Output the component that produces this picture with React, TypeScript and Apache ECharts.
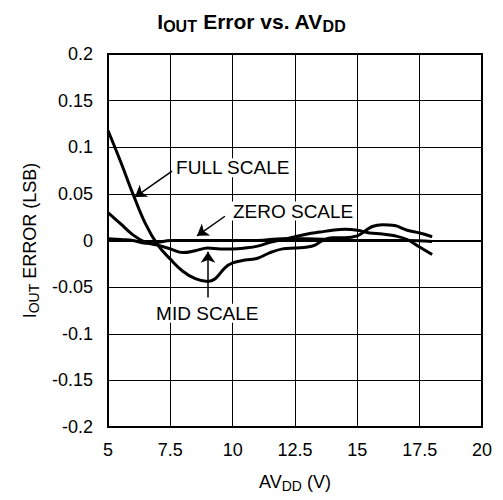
import React, { useEffect, useRef } from "react";
import * as echarts from "echarts";

const xTicks = [5, 7.5, 10, 12.5, 15, 17.5, 20];
const yTicks = [-0.2, -0.15, -0.1, -0.05, 0, 0.05, 0.1, 0.15, 0.2];

const fullScaleX = [5.0, 5.5, 6.0, 6.5, 7.0, 7.5, 8.0, 8.5, 9.0, 9.3, 9.7, 10.0, 10.5, 11.0, 11.5, 12.0, 12.5, 13.0, 13.3, 13.6, 14.0, 14.5, 15.0, 15.3, 15.6, 16.0, 16.5, 17.0, 17.5, 18.0];
const fullScaleY = [0.118, 0.085, 0.05, 0.018, -0.005, -0.02, -0.033, -0.041, -0.044, -0.041, -0.029, -0.024, -0.021, -0.019, -0.013, -0.009, -0.008, -0.007, -0.005, 0.0, 0.003, 0.003, 0.005, 0.01, 0.015, 0.017, 0.016, 0.011, 0.008, 0.004];

const midScaleX = [5.0, 5.5, 6.0, 6.5, 7.0, 7.5, 8.0, 8.5, 9.0, 9.5, 10.0, 10.5, 11.0, 11.5, 12.0, 12.5, 13.0, 13.5, 14.0, 14.5, 15.0, 15.5, 16.0, 16.5, 17.0, 17.5, 18.0];
const midScaleY = [0.03, 0.018, 0.006, -0.002, -0.005, -0.009, -0.013, -0.011, -0.008, -0.009, -0.009, -0.008, -0.006, -0.002, 0.001, 0.004, 0.007, 0.009, 0.011, 0.012, 0.011, 0.008, 0.007, 0.005, 0.001, -0.007, -0.015];

const zeroScaleX = [5.0, 5.5, 6.0, 6.5, 7.0, 7.5, 8.0, 9.0, 10.0, 11.0, 12.0, 13.0, 14.0, 15.0, 16.0, 17.0, 18.0];
const zeroScaleY = [0.002, 0.001, 0.0, -0.003, -0.002, 0.0, 0.0, 0.0, 0.0, 0.0, 0.002, 0.002, 0.001, 0.0, 0.0, 0.0, -0.001];

const labels = ["FULL SCALE", "ZERO SCALE", "MID SCALE"];
const labelPos = [[7.69, 0.078], [9.97, 0.0316], [6.89, -0.078]];
const arrowFrom = [[7.57, 0.0745], [9.69, 0.026], [9.01, -0.061]];
const arrowTo = [[6.08, 0.0466], [8.57, 0.005], [9.01, -0.012]];

const zip = (xs: number[], ys: number[]) => xs.map((x, i) => [x, ys[i]]);

const FONT = "Liberation Sans, Arial, sans-serif";

export default function App() {
  const ref = useRef<HTMLDivElement>(null);
  useEffect(() => {
    if (!ref.current) return;
    const chart = echarts.init(ref.current, undefined, { renderer: "svg" });
    const lineStyle = { color: "#000", width: 3 };
    chart.setOption({
      animation: false,
      backgroundColor: "#fff",
      title: {
        text: "{a|I}{s|OUT}{a| Error vs. AV}{s|DD}",
        left: "center",
        top: 3,
        textStyle: {
          rich: {
            a: { fontFamily: FONT, fontWeight: "bold", fontSize: 21, color: "#000" },
            s: { fontFamily: FONT, fontWeight: "bold", fontSize: 16, color: "#000", padding: [10, 0, 0, 0] },
          },
        },
      },
      grid: {
        left: 108,
        right: 21,
        top: 54,
        bottom: 73,
        show: true,
        borderColor: "#000",
        borderWidth: 2,
      },
      xAxis: {
        type: "value",
        min: xTicks[0],
        max: xTicks[xTicks.length - 1],
        interval: 2.5,
        name: "{a|AV}{s|DD}{a| (V)}",
        nameLocation: "middle",
        nameGap: 43,
        nameTextStyle: {
          rich: {
            a: { fontFamily: FONT, fontSize: 18, color: "#000" },
            s: { fontFamily: FONT, fontSize: 14, color: "#000", padding: [9, 0, 0, 0] },
          },
        },
        axisLine: { show: true, lineStyle: { color: "#000", width: 2 } },
        axisTick: { show: false },
        axisLabel: { fontFamily: FONT, fontSize: 18, color: "#000", margin: 14 },
        splitLine: { show: true, lineStyle: { color: "#000", width: 1 } },
      },
      yAxis: {
        type: "value",
        min: yTicks[0],
        max: yTicks[yTicks.length - 1],
        interval: 0.05,
        name: "{a|I}{s|OUT}{a| ERROR (LSB)}",
        nameLocation: "middle",
        nameGap: 66,
        nameTextStyle: {
          rich: {
            a: { fontFamily: FONT, fontSize: 18, color: "#000" },
            s: { fontFamily: FONT, fontSize: 14, color: "#000", padding: [9, 0, 0, 0] },
          },
        },
        axisLine: { show: true, lineStyle: { color: "#000", width: 2 } },
        axisTick: { show: false },
        axisLabel: {
          fontFamily: FONT,
          fontSize: 18,
          color: "#000",
          margin: 15,
          formatter: (v: number) => String(parseFloat(v.toFixed(2))),
        },
        splitLine: { show: true, lineStyle: { color: "#000", width: 1 } },
      },
      series: [
        {
          name: "FULL SCALE",
          type: "line",
          smooth: 0.4,
          showSymbol: false,
          lineStyle,
          data: zip(fullScaleX, fullScaleY),
          silent: true,
        },
        {
          name: "MID SCALE",
          type: "line",
          smooth: 0.4,
          showSymbol: false,
          lineStyle,
          data: zip(midScaleX, midScaleY),
          silent: true,
        },
        {
          name: "ZERO SCALE",
          type: "line",
          smooth: 0.4,
          showSymbol: false,
          lineStyle,
          data: zip(zeroScaleX, zeroScaleY),
          silent: true,
        },
        {
          name: "annotations",
          type: "line",
          data: [],
          silent: true,
          markLine: {
            silent: true,
            symbol: ["none", "arrow"],
            symbolSize: 11,
            lineStyle: { color: "#000", width: 1.5, type: "solid" },
            label: { show: false },
            emphasis: { disabled: true },
            data: arrowFrom.map((f, i) => [{ coord: f }, { coord: arrowTo[i] }]),
          },
          markPoint: {
            silent: true,
            symbol: "circle",
            symbolSize: 0,
            data: labels.map((t, i) => ({
              coord: labelPos[i],
              label: {
                show: true,
                position: "right",
                distance: 0,
                formatter: t,
                fontFamily: FONT,
                fontSize: 19,
                color: "#000",
                backgroundColor: "#fff",
                padding: [0, 1, 0, 1],
              },
            })),
          },
        },
      ],
    });
    return () => chart.dispose();
  }, []);
  return (
    <div
      ref={ref}
      style={{ position: "absolute", left: 0, top: 0, width: 503, height: 500 }}
    />
  );
}
